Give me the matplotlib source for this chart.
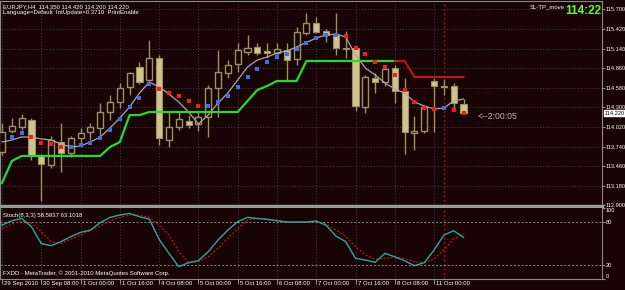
import numpy as np
import matplotlib.pyplot as plt
from matplotlib.transforms import ScaledTranslation

# EURJPY H4 candles
opens = [113.663, 113.963, 114.020, 114.120, 113.606, 113.477, 113.806, 113.649, 113.863, 113.949,
         114.006, 114.234, 114.377, 114.591, 114.877, 114.691, 115.006, 113.834, 114.020, 114.106,
         114.063, 114.163, 114.577, 114.791, 114.920, 115.091, 115.163, 115.106, 115.077, 115.120,
         114.991, 115.363, 115.506, 115.391, 115.334, 115.149, 115.149, 114.306, 114.720, 114.663,
         114.863, 114.534, 113.934, 113.963, 114.677, 114.606, 114.606, 114.350]
highs = [114.077, 114.149, 114.206, 114.149, 113.634, 113.891, 114.077, 113.891, 114.006, 114.077,
         114.363, 114.477, 114.649, 114.806, 114.949, 115.263, 115.049, 114.234, 114.234, 114.191,
         114.234, 114.620, 115.120, 114.977, 115.220, 115.334, 115.220, 115.220, 115.220, 115.220,
         115.449, 115.649, 115.591, 115.420, 115.649, 115.391, 115.177, 114.763, 114.791, 114.906,
         114.906, 114.720, 114.177, 114.334, 114.720, 114.706, 114.649, 114.420]
lows = [113.620, 113.934, 113.977, 113.549, 112.963, 113.434, 113.377, 113.591, 113.763, 113.834,
        113.863, 114.120, 114.291, 114.477, 114.634, 114.620, 113.763, 113.734, 113.977, 114.006,
        113.963, 113.877, 114.163, 114.720, 114.806, 115.049, 115.049, 115.006, 115.049, 114.691,
        114.906, 115.334, 115.363, 115.234, 115.049, 115.006, 114.249, 114.220, 114.506, 114.606,
        114.363, 113.634, 113.691, 113.934, 113.949, 114.477, 114.249, 114.200]
closes = [113.949, 114.034, 114.149, 113.606, 113.491, 113.834, 113.649, 113.863, 113.934, 114.020,
          114.234, 114.377, 114.577, 114.791, 114.663, 115.006, 113.863, 114.020, 114.134, 114.049,
          114.163, 114.577, 114.806, 114.906, 115.120, 115.149, 115.077, 115.077, 115.134, 114.977,
          115.377, 115.506, 115.377, 115.334, 115.149, 115.134, 114.320, 114.734, 114.663, 114.849,
          114.534, 113.949, 113.963, 114.306, 114.606, 114.591, 114.363, 114.220]

ma_line = [113.806, 113.834, 113.877, 113.877, 113.849, 113.834, 113.777, 113.734, 113.749, 113.806,
           113.877, 114.006, 114.149, 114.306, 114.506, 114.663, 114.591, 114.491, 114.377, 114.234,
           114.063, 114.191, 114.363, 114.506, 114.691, 114.877, 114.977, 115.020, 115.077, 115.106,
           115.163, 115.227, 115.291, 115.334, 115.349, 115.306, 115.049, 114.863, 114.763, 114.649,
           114.563, 114.506, 114.377, 114.320, 114.277, 114.291, 114.391, 114.420]

dot_price = [np.nan, 113.877, 113.934, 113.877, 113.791, 113.784, 113.734, 113.734, 113.763, 113.791,
             113.863, 113.977, 114.134, 114.306, 114.441, 114.634, 114.556, 114.506, 114.463, 114.391,
             114.320, 114.320, 114.377, 114.463, 114.591, 114.734, 114.849, 114.949, 115.020, 115.063,
             115.134, 115.220, 115.291, 115.334, 115.334, 115.320, 115.149, 115.063, 114.949, 114.877,
             114.763, 114.549, 114.377, 114.291, 114.277, 114.291, 114.263, 114.220]
dot_side = "-bbrrrrbbbbbbbbbrrrrrbbbbbbbbbbbbbbrrrrrrrrrrbrr"

trail_green = [113.220, 113.534, 113.606, 113.606, 113.606, 113.606, 113.606, 113.606, 113.606, 113.606,
               113.606, 113.734, 113.806, 114.191, 114.191, 114.234, 114.234, 114.234, 114.234, 114.234,
               114.234, 114.234, 114.234, 114.234, 114.234, 114.391, 114.549, 114.606, 114.677, 114.677,
               114.677, 114.963, 114.963, 114.963, 114.963, 114.963, 114.963, 114.963, 114.963, 114.963,
               114.963]
trail_red = [114.963, 114.963, 114.734, 114.734, 114.734, 114.734, 114.734, 114.734]

stoch_main = [75.7, 81.7, 85, 73.4, 50, 47, 52.5, 59.5, 65.5, 68.7,
              79, 86.5, 89.7, 92, 87.4, 84, 55.8, 36.3, 17.6, 23.2,
              26, 38.5, 54.8, 68.8, 80.4, 86.5, 85, 83.7, 81.7, 80,
              80, 80, 81.3, 75.7, 60.4, 52.5, 29.3, 26.9, 23.7, 36.3,
              31.5, 26, 19, 23.2, 40.9, 61.8, 67.8, 58.6]
stoch_signal = [71, 77, 81.7, 78, 66.4, 52.5, 50, 55.8, 61.8, 67.8,
                74.3, 81.7, 86.5, 89.7, 89.7, 86.5, 75.7, 61.8, 38.5, 23.2,
                24.5, 31.5, 43.2, 57.2, 71, 82.7, 85, 84, 82.7, 80,
                80, 80, 80, 77, 68.8, 59.5, 45.5, 34, 28, 29.3,
                30.7, 29.3, 24.5, 23.2, 28, 40.9, 57.2, 63.1]

time_labels = ["29 Sep 2010", "30 Sep 08:00", "1 Oct 00:00", "1 Oct 16:00", "4 Oct 08:00",
               "5 Oct 00:00", "5 Oct 16:00", "6 Oct 08:00", "7 Oct 00:00", "7 Oct 16:00",
               "8 Oct 08:00", "11 Oct 00:00"]
price_ticks = [115.700, 115.420, 115.140, 114.860, 114.580, 114.300, 114.020,
               113.740, 113.460, 113.180, 112.900]
last_price = 114.220
separator_bar = 45

BG = "#180404"
GRID = "#3a4450"
AXC = "#8a8a8a"
WICK = "#9a9260"
FILL = "#cfc48c"
FS = 4.3
plt.rcParams["font.family"] = ["Liberation Sans", "DejaVu Sans"]

W, H = 625, 290
fig = plt.figure(figsize=(W / 100, H / 100), dpi=100, facecolor=BG)
ax = fig.add_axes([0, (H - 206) / H, 602 / W, 205 / H], facecolor=BG)
ax2 = fig.add_axes([0, (H - 279.3) / H, 602 / W, 71.6 / H], facecolor=BG)

x = np.arange(len(opens))
o = np.array(opens); c = np.array(closes)
bull = c >= o

# candles
ax.vlines(x, lows, highs, color=WICK, lw=1, zorder=2)
body_lo = np.minimum(o, c)
body_h = np.maximum(np.abs(c - o), 0.012)
ax.bar(x[bull], body_h[bull], bottom=body_lo[bull], width=0.62,
       color=BG, edgecolor=WICK, linewidth=1, zorder=3)
ax.bar(x[~bull], body_h[~bull], bottom=body_lo[~bull], width=0.62,
       color=FILL, edgecolor=WICK, linewidth=0.8, zorder=3)

# indicators
ax.plot(x, ma_line, color="#a8a8a8", lw=0.9, zorder=4)
ax.plot(x[:len(trail_green)], trail_green, color="#22dd22", lw=1.6, zorder=4)
ax.plot(x[len(trail_green) - 1:], trail_red, color="#dd1010", lw=1.3, zorder=4)
dp = np.array(dot_price)
blue = np.array([s == "b" for s in dot_side])
red = np.array([s == "r" for s in dot_side])
ax.scatter(x[blue], dp[blue], marker="s", s=5, color="#3a70e8", lw=0, zorder=5)
ax.scatter(x[red], dp[red], marker="s", s=5, color="#ff1818", lw=0, zorder=5)

xl = (-0.204, 61.1)
for a in (ax, ax2):
    a.set_xlim(*xl)
    a.set_xticks(x[::4])
    a.grid(True, color=GRID, lw=0.7, linestyle=(0, (1, 2)))
    a.axvline(separator_bar, color="#cc0000", lw=0.8, linestyle=(0, (2, 2)), zorder=1)
    for s in a.spines.values():
        s.set_color(AXC)
    a.yaxis.tick_right()
    a.tick_params(axis="y", colors=AXC, labelcolor="white", length=2.5, width=0.8,
                  pad=0.3, labelsize=4.1)

ax.set_ylim(115.42 - 177 / 70, 115.42 + 28 / 70)
ax.set_yticks(price_ticks)
ax.set_yticklabels([f"{p:.3f}" for p in price_ticks])
ax.tick_params(axis="x", length=0, labelbottom=False)
ax.spines["bottom"].set_linewidth(2.5)
ax.spines["bottom"].set_color("#9a9a9a")

ax2.set_ylim(0, 100)
ax2.set_yticks([0, 20, 80, 100])
ax2.set_yticklabels(["0", "20", "80", "100"])
ax2.get_yticklabels()[0].set_va("bottom")
ax2.get_yticklabels()[3].set_va("top")
ax2.yaxis.grid(False)
ax2.spines["top"].set_visible(False)
for lvl in (20, 80):
    ax2.axhline(lvl, color="#8c8c8c", lw=0.7, linestyle=(0, (2, 2)))
ax2.plot(x, stoch_main, color="#2aa7a7", lw=1, zorder=4)
ax2.plot(x, stoch_signal, color="#d01010", lw=0.9, linestyle=(0, (1.5, 1.5)), zorder=3)
ax2.set_xticklabels(time_labels, ha="left")
ax2.tick_params(axis="x", colors=AXC, labelcolor="white", length=3.5, width=0.8,
                pad=-2.5, labelsize=FS)
shift = ScaledTranslation(2 / 100, 0, fig.dpi_scale_trans)
for lab in ax2.get_xticklabels():
    lab.set_transform(lab.get_transform() + shift)

# texts
fig.text(3 / W, 1 - 8 / H, "EURJPY,H4  114.350 114.420 114.200 114.220",
         color="white", fontsize=FS)
fig.text(3 / W, 1 - 14 / H, "Language=Default  IntUpdate=0.3710  PrintEnable",
         color="white", fontsize=FS)
fig.text(530 / W, 1 - 8 / H, "SL-TP_move", color="white", fontsize=FS)
fig.text(565 / W, 1 - 14 / H, "114:22", color="#66ff00", fontsize=8.5, fontweight="bold")
ax.text(48.4, 114.163, "<--2:00:05", color="#b8b8b8", fontsize=6.2, va="center")
ax.annotate(f"{last_price:.3f}", xy=(1.0, last_price), xycoords=("axes fraction", "data"),
            xytext=(2, 0), textcoords="offset points", va="center", ha="left",
            fontsize=4.1, color="black",
            bbox=dict(boxstyle="square,pad=0.15", fc="white", ec="white"))
fig.text(3 / W, 1 - 217 / H, "Stoch(8,3,3) 58.5937 63.1018", color="white", fontsize=FS)
fig.text(3 / W, 1 - 275 / H, "FXDD - MetaTrader, \u00a9 2001-2010 MetaQuotes Software Corp.",
         color="white", fontsize=FS)

fig.savefig("out.png", dpi=100, facecolor=BG)
